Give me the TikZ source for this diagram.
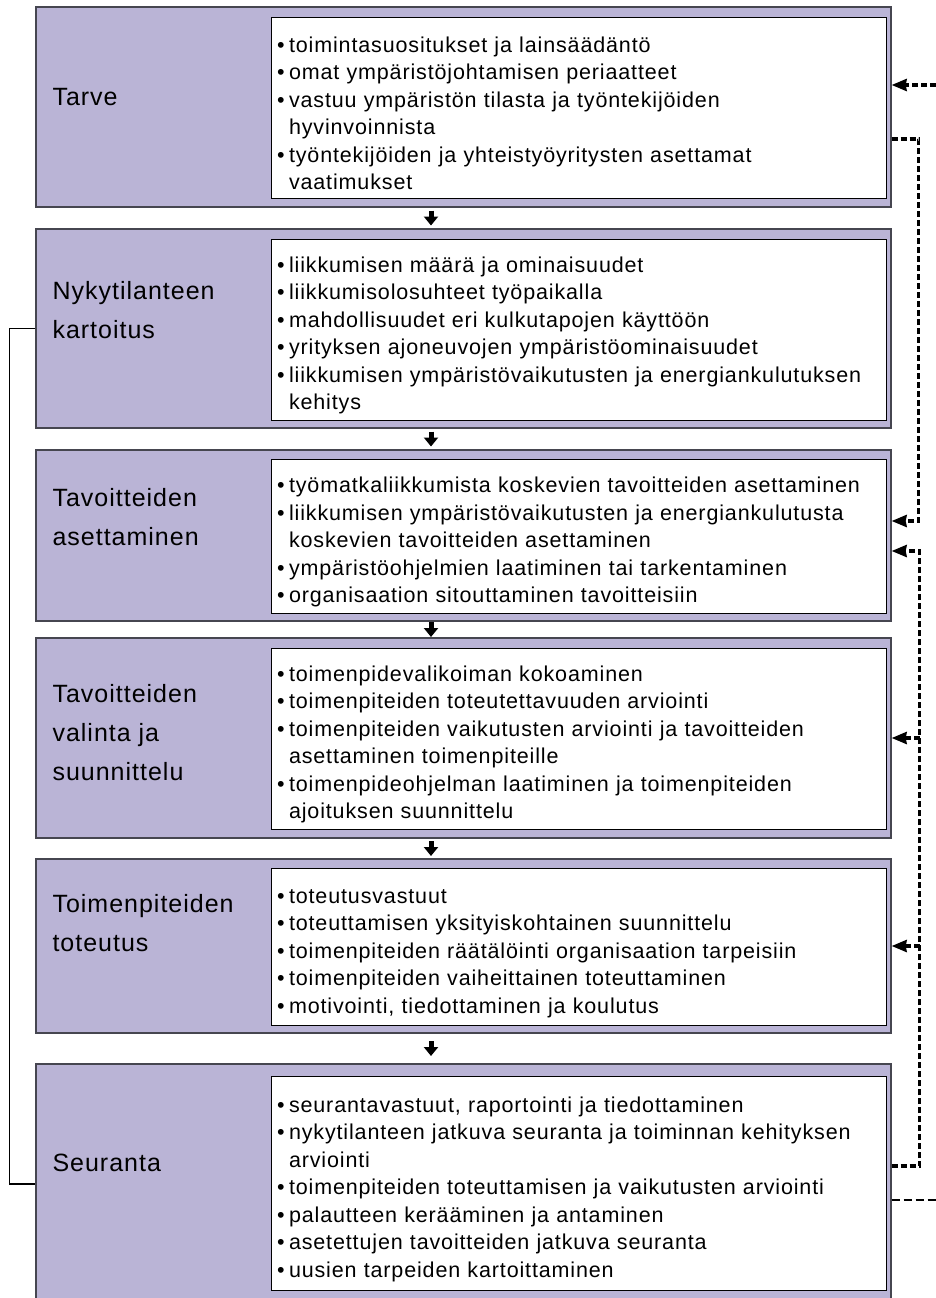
\documentclass[tikz,border=0pt]{standalone}
\usepackage{fontspec}
\setmainfont{Liberation Sans}
\newfontfamily\spacedfont[LetterSpace=4]{Liberation Sans}
\usetikzlibrary{arrows.meta,calc,positioning}

\definecolor{stagefill}{RGB}{186,180,214}
\definecolor{stageline}{RGB}{70,70,80}

% bullet item with hanging indent
\newcommand\bul[1]{\par\hangindent=12pt\hangafter=1\makebox[12pt][l]{\textbullet}#1\par}

\begin{document}
\begin{tikzpicture}
  [
  x=1pt, y=-1pt, line width=1pt, >=Stealth,
  stagebox/.style={rectangle, draw=stageline, line width=1.3pt, fill=stagefill, minimum width=855pt, inner sep=0pt},
  listbox/.style={rectangle, draw=black, fill=white, line width=0.9pt, text width=603pt, inner xsep=6pt, inner ysep=0pt, align=left, font=\spacedfont\fontsize{21.5}{27.5}\selectfont},
  stagelabel/.style={anchor=west, align=left, inner sep=0pt, font=\spacedfont\fontsize{25}{39}\selectfont},
  flow/.style={-{Triangle[length=9pt,width=14pt]}, line width=5pt},
  feedback/.style={line width=3.2pt, dash pattern=on 6pt off 3pt},
  fbarrow/.style={feedback, -{Stealth[length=15pt,width=12pt,inset=1pt]}},
  ]

  \useasboundingbox (0,0) rectangle (936,1298);

  % stages
  \node[stagebox, minimum height=200pt] (s1) at (463.5,107) {};
  \node[stagebox, minimum height=199pt] (s2) at (463.5,328.5) {};
  \node[stagebox, minimum height=171pt] (s3) at (463.5,535.5) {};
  \node[stagebox, minimum height=200pt] (s4) at (463.5,738) {};
  \node[stagebox, minimum height=174pt] (s5) at (463.5,946) {};
  \node[stagebox, minimum height=240pt] (s6) at (463.5,1184) {};

  \node[stagelabel] (t1) at (52,97) {Tarve};
  \node[stagelabel] (t2) at (52,310) {Nykytilanteen\\kartoitus};
  \node[stagelabel] (t3) at (52,517) {Tavoitteiden\\asettaminen};
  \node[stagelabel] (t4) at (52,733) {Tavoitteiden\\valinta ja\\suunnittelu};
  \node[stagelabel] (t5) at (52,923) {Toimenpiteiden\\toteutus};
  \node[stagelabel] (t6) at (52,1163) {Seuranta};

  % lists
  \node[listbox, minimum height=181pt] (l1) at (578.5,107.5) {%
    \bul{toimintasuositukset ja lainsäädäntö}
    \bul{omat ympäristöjohtamisen periaatteet}
    \bul{vastuu ympäristön tilasta ja työntekijöiden\newline hyvinvoinnista}
    \bul{työntekijöiden ja yhteistyöyritysten asettamat\newline vaatimukset}};
  \node[listbox, minimum height=181pt] (l2) at (578.5,329.5) {%
    \bul{liikkumisen määrä ja ominaisuudet}
    \bul{liikkumisolosuhteet työpaikalla}
    \bul{mahdollisuudet eri kulkutapojen käyttöön}
    \bul{yrityksen ajoneuvojen ympäristöominaisuudet}
    \bul{liikkumisen ympäristövaikutusten ja energiankulutuksen\newline kehitys}};
  \node[listbox, minimum height=154pt] (l3) at (578.5,536) {%
    \bul{työmatkaliikkumista koskevien tavoitteiden asettaminen}
    \bul{liikkumisen ympäristövaikutusten ja energiankulutusta\newline koskevien tavoitteiden asettaminen}
    \bul{ympäristöohjelmien laatiminen tai tarkentaminen}
    \bul{organisaation sitouttaminen tavoitteisiin}};
  \node[listbox, minimum height=181pt] (l4) at (578.5,738.5) {%
    \bul{toimenpidevalikoiman kokoaminen}
    \bul{toimenpiteiden toteutettavuuden arviointi}
    \bul{toimenpiteiden vaikutusten arviointi ja tavoitteiden\newline asettaminen toimenpiteille}
    \bul{toimenpideohjelman laatiminen ja toimenpiteiden\newline ajoituksen suunnittelu}};
  \node[listbox, minimum height=157pt] (l5) at (578.5,946.5) {%
    \bul{toteutusvastuut}
    \bul{toteuttamisen yksityiskohtainen suunnittelu}
    \bul{toimenpiteiden räätälöinti organisaation tarpeisiin}
    \bul{toimenpiteiden vaiheittainen toteuttaminen}
    \bul{motivointi, tiedottaminen ja koulutus}};
  \node[listbox, minimum height=214pt] (l6) at (578.5,1183) {%
    \bul{seurantavastuut, raportointi ja tiedottaminen}
    \bul{nykytilanteen jatkuva seuranta ja toiminnan kehityksen\newline arviointi}
    \bul{toimenpiteiden toteuttamisen ja vaikutusten arviointi}
    \bul{palautteen kerääminen ja antaminen}
    \bul{asetettujen tavoitteiden jatkuva seuranta}
    \bul{uusien tarpeiden kartoittaminen}};

  % flow between stages
  \foreach \a/\b in {s1/s2,s2/s3,s3/s4,s4/s5,s5/s6} {
    \draw[flow] ($(\a.south)!.5!(\b.north)+(-32.5,-7.5)$) -- ($(\a.south)!.5!(\b.north)+(-32.5,7.5)$);
  }

  % back loop on the left
  \draw[line width=1.5pt] (s2.west) -- ++(-26,0) |- (s6.west);

  % feedback on the right
  \coordinate (inR) at (936,85);
  \coordinate (outR) at (936,1200);
  \draw[fbarrow] (inR) -- (s1.east |- inR);
  \draw[fbarrow] ($(s1.east)+(0,32)$) -- ++(27,0) |- ($(s3.east)+(0,-14.5)$);
  \draw[fbarrow] ($(s6.east)+(0,-18)$) -- ++(28,0) coordinate (fb) |- ($(s3.east)+(0,15.5)$);
  \draw[fbarrow] (fb |- s4.east) -- (s4.east);
  \draw[fbarrow] (fb |- s5.east) -- (s5.east);
  \draw[feedback, line width=2pt, dash pattern=on 8pt off 4pt] (s6.east |- outR) -- (outR);
\end{tikzpicture}
\end{document}
